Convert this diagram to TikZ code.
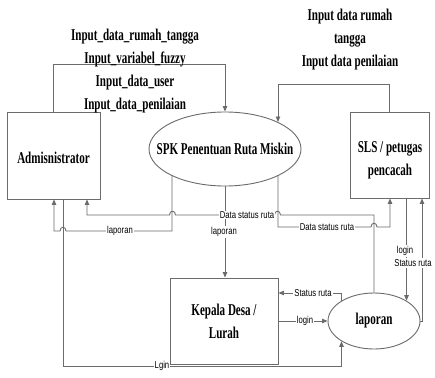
\documentclass[tikz,border=0pt]{standalone}
\usepackage{fontspec}
\usetikzlibrary{arrows.meta,shapes.geometric}
\newfontfamily\serifb{Liberation Serif}[FakeStretch=0.67]
\newfontfamily\sansl{Liberation Sans}[FakeStretch=0.77]
\definecolor{linec}{gray}{0.42}
\begin{document}
\begin{tikzpicture}[x=1pt,y=-1pt,
  conn/.style={draw=linec,line width=0.9pt},
  flow/.style={conn,-{Triangle[length=5.5pt,width=4.5pt]}},
  entbox/.style={draw=linec,line width=0.9pt,rectangle,inner sep=0pt},
  proc/.style={draw=linec,line width=0.9pt,ellipse,inner sep=0pt,font=\serifb\bfseries\fontsize{16.5}{23}\selectfont},
  bigt/.style={font=\serifb\bfseries\fontsize{16.5}{23}\selectfont,align=center,inner sep=0pt},
  lbl/.style={font=\sansl\fontsize{10}{12}\selectfont,fill=white,inner sep=1pt}]
\fill[white] (0,0) rectangle (435,377);
\useasboundingbox (0,0) rectangle (435,377);
% entities and processes
\node[entbox,minimum width=93pt,minimum height=87pt] (admin) at (53.5,155.5) {};
\node[bigt] (admint) at (53.5,158) {Admisnistrator};
\node[entbox,minimum width=79pt,minimum height=86pt] (sls) at (389.5,155) {};
\node[bigt] (slst) at (390,160) {SLS / petugas\\pencacah};
\node[entbox,minimum width=108pt,minimum height=86pt] (kep) at (224,321) {};
\node[bigt] (kept) at (224,321.5) {Kepala Desa /\\Lurah};
\node[proc,minimum width=152pt,minimum height=74pt] (spk) at (225,149) {\makebox[0pt]{SPK Penentuan Ruta Miskin}};
\node[proc,minimum width=92pt,minimum height=56pt] (lap) at (374,321) {\makebox[0pt]{laporan}};
% connectors
\draw[flow] (admin.north) -- ++(0,-47) -| (spk.north);
\draw[flow] (sls.north) -- ++(0,-27) -| (spk.27);
\draw[flow] (spk.207) -- (spk.207 |- 0,231) -- (66,231) .. controls (66,226) and (60,226) .. (60,231) -| (54,0 |- admin.south);
\draw[flow] (lap.north) -- (lap.north |- 0,215) -- (280.5,215) .. controls (280.5,210) and (274.5,210) .. (274.5,215) -- (175.5,215) .. controls (175.5,210) and (169.5,210) .. (169.5,215) -| (87,0 |- admin.south);
\draw[flow] (spk.333) -- (spk.333 |- 0,227) -- (371,227) .. controls (371,222) and (377,222) .. (377,227) -| (390,0 |- sls.south);
\draw[flow] (spk.south) -- (spk.south |- kep.north);
\draw[flow] (lap.32 |- sls.south) -- (lap.32);
\draw[flow] (lap.east) -| (422,0 |- sls.south);
\draw[flow] (lap.148) |- (kep.east |- 0,293);
\draw[flow] (kep.east) -- (lap.west);
\draw[flow] (63,0 |- admin.south) |- (lap.212 |- 0,366) -- (lap.212);
% labels
\node[lbl] (l1) at (120,231) {laporan};
\node[lbl] (l2) at (247,215) {Data status ruta};
\node[lbl] (l3) at (224,232) {laporan};
\node[lbl] (l4) at (327,227) {Data status ruta};
\node[lbl] (l5) at (405,251) {login};
\node[lbl] (l6) at (413,263) {Status ruta};
\node[lbl] (l7) at (313,293) {Status ruta};
\node[lbl] (l8) at (305,321) {login};
\node[lbl] (l9) at (162,366) {Lgin};
\node[bigt] (t1) at (135,71) {Input\_data\_rumah\_tangga\\Input\_variabel\_fuzzy\\Input\_data\_user\\Input\_data\_penilaian};
\node[bigt] (t2) at (350,40) {Input data rumah\\tangga\\Input data penilaian};
\end{tikzpicture}
\end{document}
